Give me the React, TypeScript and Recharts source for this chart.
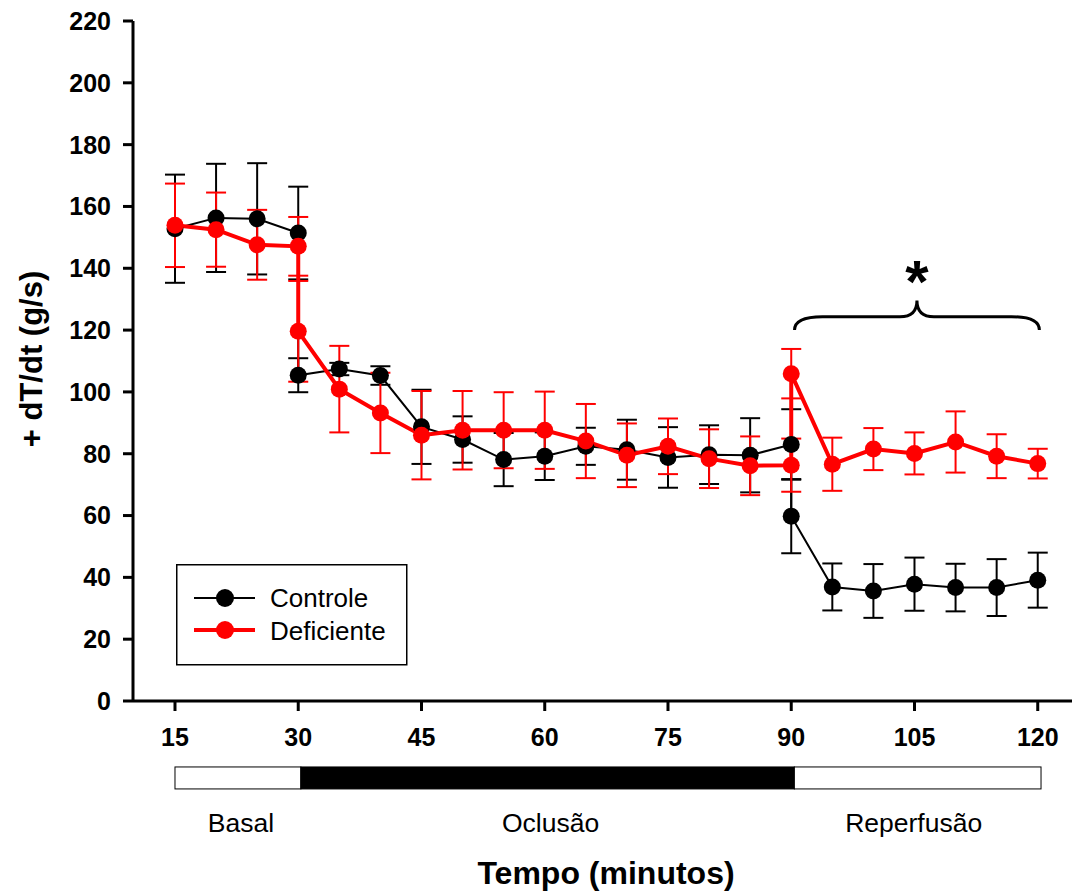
import React from 'react';
import {
  LineChart, Line, XAxis, YAxis, ErrorBar, ReferenceArea, Legend,
} from 'recharts';

const FONT = '"Liberation Sans", Arial, Helvetica, sans-serif';

const times = [15, 20, 25, 30, 30, 35, 40, 45, 50, 55, 60, 65, 70, 75, 80, 85, 90, 90, 95, 100, 105, 110, 115, 120];
const controleMean = [152.8, 156.3, 156.0, 151.4, 105.4, 107.4, 105.3, 88.7, 84.6, 78.1, 79.2, 82.4, 81.3, 78.8, 79.7, 79.5, 83.0, 59.8, 36.9, 35.6, 37.8, 36.7, 36.7, 39.1];
const controleErr = [17.5, 17.5, 18, 15, 5.5, 2, 3, 12, 7.5, 8.6, 7.7, 6, 9.7, 9.8, 9.5, 12, 11.4, 12, 7.6, 8.7, 8.6, 7.7, 9.2, 8.9];
const deficienteMean = [153.9, 152.5, 147.6, 147.1, 119.6, 100.9, 93.2, 86.0, 87.6, 87.6, 87.6, 84.1, 79.5, 82.4, 78.4, 76.1, 76.3, 105.9, 76.6, 81.5, 80.1, 83.8, 79.2, 76.8];
const deficienteErr = [13.5, 12, 11.3, 9.5, 16.3, 14, 13, 14.3, 12.7, 12.3, 12.5, 12, 10.3, 9, 9.5, 9.5, 8.6, 8, 8.6, 6.8, 6.8, 9.9, 7.1, 4.8];

const xTicks = [15, 30, 45, 60, 75, 90, 105, 120];
const yTicks = [0, 20, 40, 60, 80, 100, 120, 140, 160, 180, 200, 220];

const phaseNames = ['Basal', 'Oclusão', 'Reperfusão'];
const phaseStart = [15, 30.32, 90.38];
const phaseEnd = [30.32, 90.38, 120.4];
const phaseFill = ['#ffffff', '#000000', '#ffffff'];
const phaseLabelShift = [3, 3, -4];

const legendNames = ['Controle', 'Deficiente'];
const legendColors = ['#000000', '#ff0000'];

const controleData = times.map((t, i) => ({ x: t, y: controleMean[i], err: controleErr[i] }));
const deficienteData = times.map((t, i) => ({ x: t, y: deficienteMean[i], err: deficienteErr[i] }));

const PhaseShape = (name: string, fill: string, dx: number) => (props: any) => {
  const { x, y, width, height } = props;
  return (
    <g>
      <rect x={x} y={y} width={width} height={height} fill={fill} stroke="#000" strokeWidth={1} />
      <text x={x + width / 2 + dx} y={y + height + 43} textAnchor="middle" fontFamily={FONT} fontSize={26.5} fill="#000">
        {name}
      </text>
    </g>
  );
};

const BraceShape = (props: any) => {
  const { x, y, width, height } = props;
  const yb = y + height;
  const yh = y + height * 0.55;
  const yt = y;
  const cx = x + width / 2;
  const rx = 28;
  const rc = 17;
  const d = `M ${x} ${yb} Q ${x} ${yh} ${x + rx} ${yh} L ${cx - rc} ${yh} Q ${cx} ${yh} ${cx} ${yt} Q ${cx} ${yh} ${cx + rc} ${yh} L ${x + width - rx} ${yh} Q ${x + width} ${yh} ${x + width} ${yb}`;
  return (
    <g>
      <path d={d} fill="none" stroke="#000" strokeWidth={3} />
      <text x={cx} y={yt + 2} textAnchor="middle" fontFamily={FONT} fontWeight="bold" fontSize={60} fill="#000">*</text>
    </g>
  );
};

const LegendBox = () => (
  <svg width={232} height={102} style={{ display: 'block' }}>
    <rect x={0.75} y={0.75} width={230} height={100} fill="#fff" stroke="#000" strokeWidth={1.5} />
    {legendNames.map((n, i) => (
      <g key={n}>
        <line x1={18} x2={79} y1={34 + i * 32} y2={34 + i * 32} stroke={legendColors[i]} strokeWidth={i === 0 ? 2 : 4} />
        <circle cx={49} cy={34 + i * 32} r={9} fill={legendColors[i]} />
        <text x={94} y={43 + i * 33} fontFamily={FONT} fontSize={26} fill="#000">{n}</text>
      </g>
    ))}
  </svg>
);

const YLabel = (props: any) => {
  const vb = props.viewBox || {};
  const cy = vb.y + vb.height / 2 - 2;
  return (
    <text x={42} y={cy} transform={`rotate(-90 42 ${cy})`} textAnchor="middle" fontFamily={FONT} fontWeight="bold" fontSize={31} fill="#000">
      + dT/dt (g/s)
    </text>
  );
};

const XLabel = () => (
  <text x={606} y={884} textAnchor="middle" fontFamily={FONT} fontWeight="bold" fontSize={32} fill="#000">
    Tempo (minutos)
  </text>
);

export default function App() {
  return (
    <div style={{ position: 'absolute', left: 0, top: 0, width: 1072, height: 892, background: '#fff' }}>
      <LineChart width={1072} height={892} margin={{ top: 21, right: 0, bottom: 131, left: 0 }}>
        <XAxis
          type="number"
          dataKey="x"
          domain={[9.89, 124.17]}
          ticks={xTicks}
          allowDataOverflow
          height={60}
          axisLine={{ stroke: '#000', strokeWidth: 3 }}
          tickLine={{ stroke: '#000', strokeWidth: 3 }}
          tickSize={10}
          tickMargin={17}
          tick={{ fill: '#000', fontFamily: FONT, fontWeight: 'bold', fontSize: 25 }}
          label={<XLabel />}
        />
        <YAxis
          type="number"
          domain={[0, 220]}
          ticks={yTicks}
          width={133}
          axisLine={{ stroke: '#000', strokeWidth: 3 }}
          tickLine={{ stroke: '#000', strokeWidth: 3 }}
          tickSize={10}
          tickMargin={12}
          tick={{ fill: '#000', fontFamily: FONT, fontWeight: 'bold', fontSize: 25 }}
          label={<YLabel />}
        />
        {phaseNames.map((n, i) => (
          <ReferenceArea
            key={n}
            x1={phaseStart[i]}
            x2={phaseEnd[i]}
            y1={-28.45}
            y2={-21.34}
            ifOverflow="visible"
            shape={PhaseShape(n, phaseFill[i], phaseLabelShift[i])}
          />
        ))}
        <ReferenceArea x1={90.4} x2={120.2} y1={120} y2={129.6} ifOverflow="visible" shape={BraceShape} />
        <Line
          data={controleData}
          dataKey="y"
          name="Controle"
          stroke="#000"
          strokeWidth={2}
          dot={{ r: 8.5, fill: '#000', stroke: '#000', strokeWidth: 0 }}
          isAnimationActive={false}
        >
          <ErrorBar dataKey="err" direction="y" width={10} stroke="#000" strokeWidth={2} />
        </Line>
        <Line
          data={deficienteData}
          dataKey="y"
          name="Deficiente"
          stroke="#ff0000"
          strokeWidth={4}
          dot={{ r: 8.5, fill: '#ff0000', stroke: '#ff0000', strokeWidth: 0 }}
          isAnimationActive={false}
        >
          <ErrorBar dataKey="err" direction="y" width={10} stroke="#ff0000" strokeWidth={2} />
        </Line>
        <Legend
          layout="horizontal"
          verticalAlign="middle"
          align="center"
          content={() => <LegendBox />}
          wrapperStyle={{ left: 176, top: 564, width: 232, height: 102 }}
        />
      </LineChart>
    </div>
  );
}
